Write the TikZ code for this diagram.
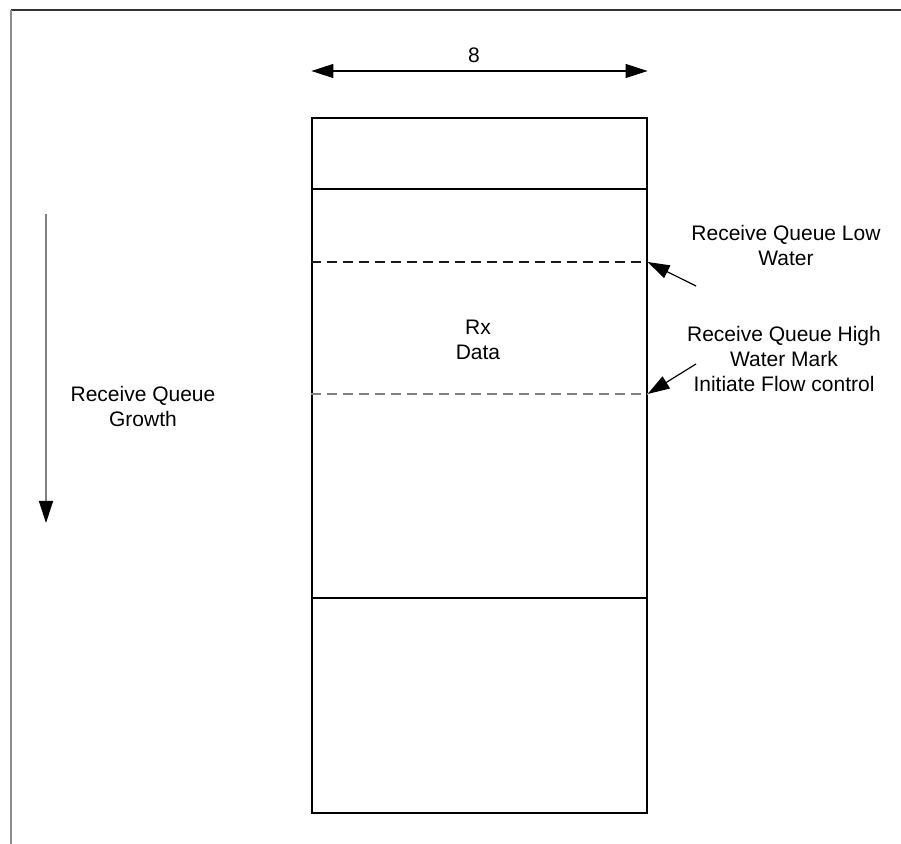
\documentclass[tikz,border=0pt]{standalone}
\usepackage{fontspec}
\setmainfont{Liberation Sans}
\usetikzlibrary{positioning, arrows.meta}

\begin{document}
\begin{tikzpicture}[x=0.5pt,y=-0.5pt,line width=0.6pt,
  lbl/.style={align=center,font=\fontsize{10.5}{12.5}\selectfont,inner sep=0pt},
  tip/.style={-{Triangle[length=11pt,width=7pt,color=black]}},
  wmark/.style={dash pattern=on 5pt off 3pt}]
\useasboundingbox (0,0) rectangle (901,844);
% page frame
\draw[black!80] (11,10) -- (901,10);
\draw[black!45] (11,10) -- (11,844);
% queue buffer
\node[draw,minimum width=167.5pt,minimum height=347.5pt,inner sep=0pt] (queue) at (479.5,465.5) {};
\draw (queue.west |- 0,189) -- (queue.east |- 0,189);
\draw (queue.west |- 0,598) -- (queue.east |- 0,598);
\draw[wmark,black!90] (queue.west |- 0,262) -- (queue.east |- 0,262) coordinate (lowmark);
\draw[wmark,black!50] (queue.west |- 0,394) -- (queue.east |- 0,394) coordinate (highmark);
\node[lbl] (rxdata) at (478,340) {Rx\\Data};
% width
\coordinate (wleft) at (queue.west |- 0,71);
\coordinate (wright) at (queue.east |- 0,71);
\draw[{Triangle[length=11pt,width=7pt]}-{Triangle[length=11pt,width=7pt]}] (wleft) -- (wright);
\node[lbl] (width) at (474,55) {8};
% growth
\coordinate (gtop) at (46,214);
\coordinate (gbot) at (46,523);
\draw[tip,black!50] (gtop) -- (gbot);
\node[lbl] (growth) at (143,406) {Receive Queue\\Growth};
% water marks
\node[lbl] (lowtxt) at (786,245) {Receive Queue Low\\Water};
\node[lbl] (hightxt) at (784,359) {Receive Queue High\\Water Mark\\Initiate Flow control};
\coordinate (lowfrom) at (696,286);
\coordinate (highfrom) at (696,364);
\draw[tip] (lowfrom) -- (lowmark);
\draw[tip] (highfrom) -- (highmark);
\end{tikzpicture}
\end{document}
